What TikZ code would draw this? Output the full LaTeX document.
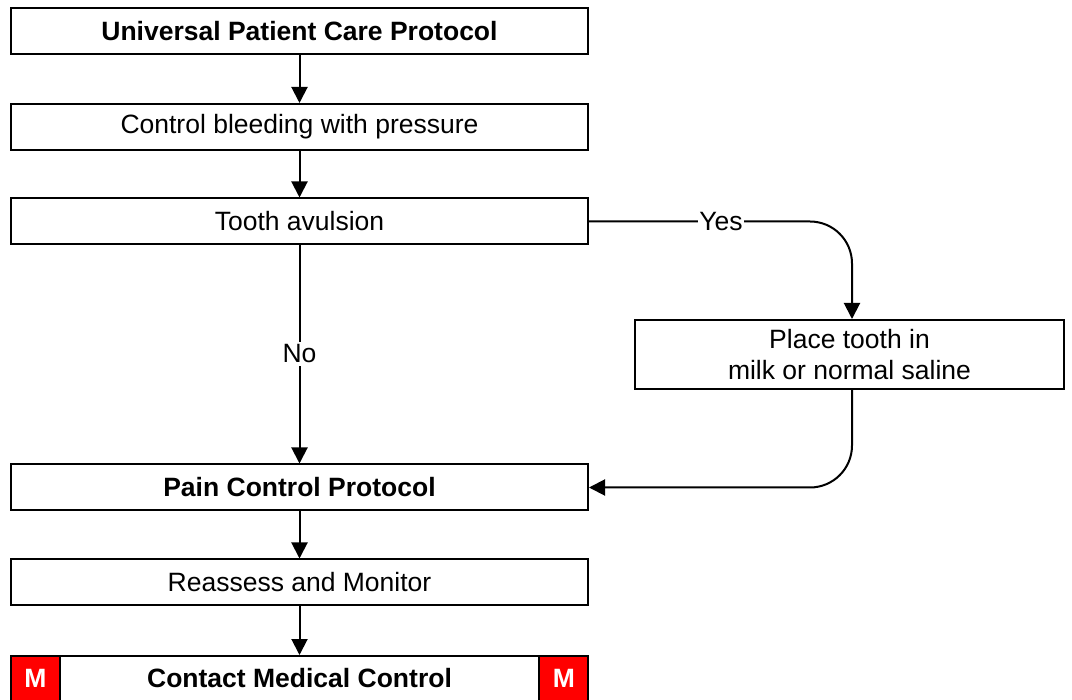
\documentclass[tikz,border=0pt]{standalone}
\usepackage{fontspec}
\setmainfont{Liberation Sans}
\usetikzlibrary{arrows.meta}
\begin{document}
\begin{tikzpicture}[x=1pt,y=-1pt,
  fnt/.style={font=\fontsize{26.5}{31}\selectfont},
  bfnt/.style={font=\bfseries\fontsize{26.5}{31}\selectfont},
  box/.style={draw, line width=2pt, minimum height=46pt, inner sep=0pt, fnt},
  conn/.style={line width=2pt, -{Triangle[length=16pt,width=16pt]}},
  mbox/.style={fill=red, draw, line width=2pt, minimum width=49pt, minimum height=50pt, inner sep=0pt},
  lbl/.style={fill=white, inner sep=3pt, fnt}]
\useasboundingbox (0,0) rectangle (1072,700);
\clip (0,0) rectangle (1072,700);
\node[box, minimum width=577pt, bfnt] (upc) at (299.5,31) {Universal Patient Care Protocol};
\node[box, minimum width=577pt] (cb) at (299.5,127) {Control bleeding with pressure};
\node[box, minimum width=577pt] (ta) at (299.5,221.5) {Tooth avulsion};
\node[box, minimum width=429pt, minimum height=69pt, align=center] (pt) at (849.5,354.5) {Place tooth in\\milk or normal saline};
\node[box, minimum width=577pt, bfnt] (pcp) at (299.5,487.5) {Pain Control Protocol};
\node[box, minimum width=577pt] (ra) at (299.5,582.5) {Reassess and Monitor};
\node[box, minimum width=577pt, minimum height=50pt, anchor=north] (cmc) at (299.5,655) {};
\node[mbox, anchor=north west] (m1) at (cmc.north west) {};
\node[mbox, anchor=north east] (m2) at (cmc.north east) {};
\node[text=white, bfnt] (m1t) at (35.5,678) {M};
\node[text=white, bfnt] (m2t) at (564,678) {M};
\node[bfnt] (cmct) at (299.5,678) {Contact Medical Control};
\draw[conn] (upc) -- (cb);
\draw[conn] (cb) -- (ta);
\draw[conn] (ta) -- (pcp);
\node[lbl] (no) at (299.5,354) {No};
\draw[conn, rounded corners=42pt] (ta.east) -- (852,221.5) -- (pt.north -| 852,0);
\node[lbl, inner sep=1pt] (yes) at (721,221.5) {Yes};
\draw[conn, rounded corners=42pt] (pt.south -| 852,0) -- (852,487.5) -- (pcp.east);
\draw[conn] (pcp) -- (ra);
\draw[conn] (ra) -- (cmc);
\end{tikzpicture}
\end{document}
